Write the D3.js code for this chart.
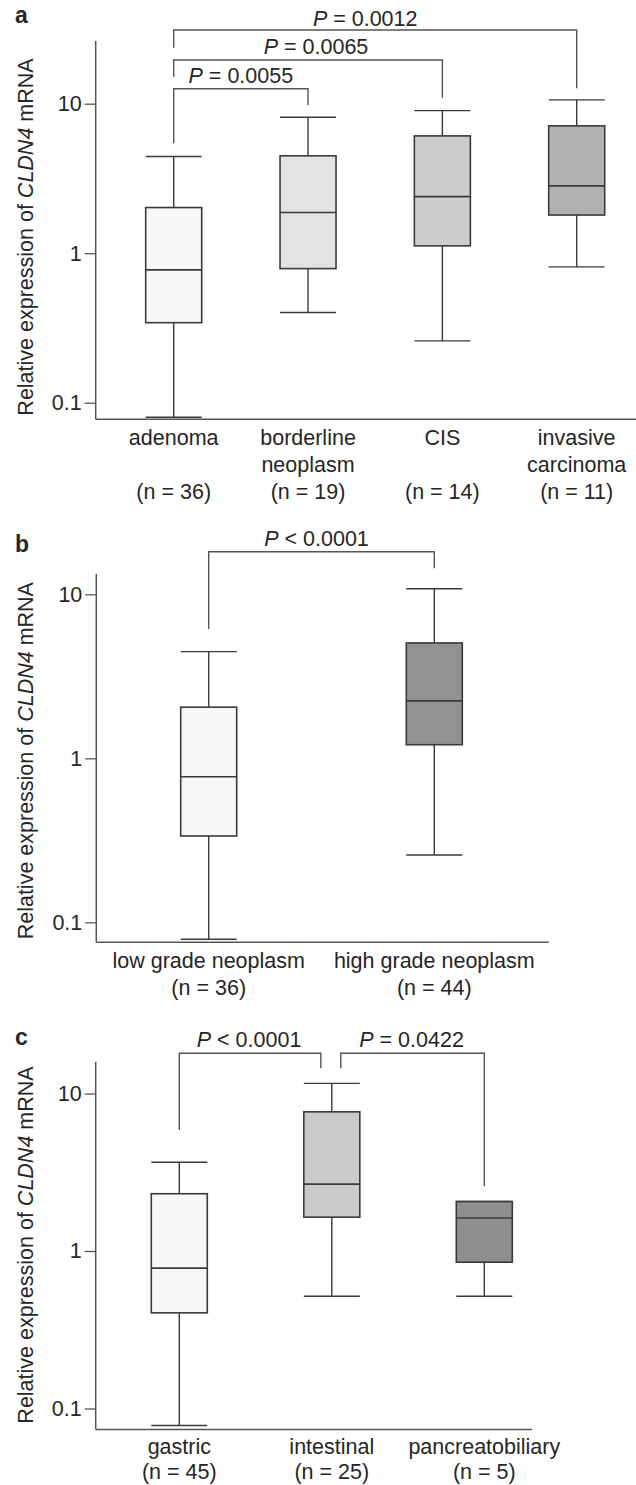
<!DOCTYPE html>
<html>
<head>
<meta charset="utf-8">
<script src="https://cdn.jsdelivr.net/npm/d3@7"></script>
<style>
  body { margin: 0; background: #fff; }
  svg { display: block; }
  text { font-family: "Liberation Sans", Arial, Helvetica, sans-serif; fill: #262626; }
</style>
</head>
<body>
<svg id="chart"></svg>
<script>
// tick labels (shared by the three panels)
var tickValues = [0.1, 1, 10];
var tickLabels = ["0.1", "1", "10"];

// panel a
var catsA = [["adenoma"], ["borderline", "neoplasm"], ["CIS"], ["invasive", "carcinoma"]];
var nA = [36, 19, 14, 11];
// [lower whisker, Q1, median, Q3, upper whisker]
var statsA = [
  [0.080, 0.343, 0.773, 2.02, 4.43],
  [0.401, 0.789, 1.87, 4.48, 8.12],
  [0.259, 1.12, 2.39, 6.09, 8.99],
  [0.81, 1.80, 2.82, 7.11, 10.6]
];
var compA = [[0, 1, "= 0.0055"], [0, 2, "= 0.0065"], [0, 3, "= 0.0012"]];

// panel b
var catsB = [["low grade neoplasm"], ["high grade neoplasm"]];
var nB = [36, 44];
var statsB = [
  [0.0788, 0.336, 0.772, 2.05, 4.47],
  [0.257, 1.21, 2.24, 5.05, 10.8]
];
var compB = [[0, 1, "< 0.0001"]];

// panel c
var catsC = [["gastric"], ["intestinal"], ["pancreatobiliary"]];
var nC = [45, 25, 5];
var statsC = [
  [0.078, 0.405, 0.778, 2.31, 3.66],
  [0.516, 1.64, 2.66, 7.65, 11.6],
  [0.516, 0.849, 1.62, 2.06, 2.06]
];
var compC = [[0, 1, "< 0.0001"], [1, 2, "= 0.0422"]];

var svgWidth = 636;
var svgHeight = 1485;
var fontSize = 21.5;
var boxWidth = 56;
var lineColor = "#3a3a3a";
var axisColor = "#555";

var svg = d3.select("#chart")
  .attr("width", svgWidth)
  .attr("height", svgHeight);

svg.append("rect").attr("width", svgWidth).attr("height", svgHeight).attr("fill", "#fff");

// layout of each panel (pixel positions only)
var panels = [
  { letter: "a", cats: catsA, n: nA, stats: statsA, comps: compA,
    fills: ["#f7f7f7", "#e3e3e3", "#cdcdcd", "#b1b1b1"],
    top: 41, y10: 103.7, y01: 402.7, axisY: 419.3, axisX: 95.7, xEnd: 636,
    x0: 173.7, x1: 576.7, letterY: 23.3, labelCY: 237, nLine: 2,
    lab0: 25.5, labStep: 27,
    brackets: [
      { y: 88.7, left: 143.3, right: 105, dx: 0, ty: 83.3 },
      { y: 60, left: 76.7, right: 97.7, dx: 8, ty: 54 },
      { y: 30, left: 47.7, right: 88.3, dx: -10, ty: 26 }
    ] },
  { letter: "b", cats: catsB, n: nB, stats: statsB, comps: compB,
    fills: ["#f7f7f7", "#929292"],
    top: 574, y10: 594.3, y01: 922.3, axisY: 942.3, axisX: 96.3, xEnd: 548.7,
    x0: 208.7, x1: 434.3, letterY: 551.7, labelCY: 760.7, nLine: 1,
    lab0: 25.5, labStep: 27,
    brackets: [
      { y: 551.7, left: 629, right: 568.3, dx: -5, ty: 546 }
    ] },
  { letter: "c", cats: catsC, n: nC, stats: statsC, comps: compC,
    fills: ["#f7f7f7", "#cacaca", "#8f8f8f"],
    top: 1061.7, y10: 1093.5, y01: 1408.5, axisY: 1429.5, axisX: 95.7, xEnd: 532,
    x0: 179.3, x1: 484.3, letterY: 1045, labelCY: 1245, nLine: 1,
    lab0: 24, labStep: 25,
    brackets: [
      { y: 1053.3, left: 1130, right: 1068.3, offR: -11, dx: -1, ty: 1046.7 },
      { y: 1053.3, left: 1068.3, right: 1186, offL: 9, dx: -1, ty: 1046.7 }
    ] }
];

panels.forEach(function(p) {
  var g = svg.append("g");

  var y = d3.scaleLog().domain([0.1, 10]).range([p.y01, p.y10]);
  var x = d3.scalePoint().domain(d3.range(p.cats.length)).range([p.x0, p.x1]);

  // panel letter
  g.append("text")
    .attr("x", 15).attr("y", p.letterY)
    .style("font-size", "23px").style("font-weight", "bold")
    .text(p.letter);

  // y axis
  var yAxis = d3.axisLeft(y)
    .tickValues(tickValues)
    .tickFormat(function(d, i) { return tickLabels[i]; })
    .tickSize(11)
    .tickPadding(3);
  var ga = g.append("g")
    .attr("transform", "translate(" + p.axisX + ",0)")
    .call(yAxis);
  ga.select(".domain").remove();
  ga.selectAll(".tick line").attr("stroke", axisColor).attr("stroke-width", 1.3);
  ga.selectAll(".tick text")
    .style("font-size", fontSize + "px")
    .style("font-family", "'Liberation Sans', Arial, sans-serif")
    .attr("fill", "#262626");

  g.append("line")
    .attr("x1", p.axisX).attr("x2", p.axisX)
    .attr("y1", p.top).attr("y2", p.axisY)
    .attr("stroke", axisColor).attr("stroke-width", 1.5);
  g.append("line")
    .attr("x1", p.axisX).attr("x2", p.xEnd)
    .attr("y1", p.axisY).attr("y2", p.axisY)
    .attr("stroke", axisColor).attr("stroke-width", 1.5);

  // y label
  var yl = g.append("text")
    .attr("transform", "translate(33," + p.labelCY + ") rotate(-90)")
    .attr("text-anchor", "middle")
    .style("font-size", fontSize + "px");
  yl.append("tspan").text("Relative expression of ");
  yl.append("tspan").style("font-style", "italic").text("CLDN4");
  yl.append("tspan").text(" mRNA");

  // category labels
  p.cats.forEach(function(lines, i) {
    var t = g.append("text")
      .attr("text-anchor", "middle")
      .style("font-size", fontSize + "px");
    lines.forEach(function(s, k) {
      t.append("tspan").attr("x", x(i)).attr("y", p.axisY + p.lab0 + k * p.labStep).text(s);
    });
    t.append("tspan").attr("x", x(i)).attr("y", p.axisY + p.lab0 + p.nLine * p.labStep)
      .text("(n = " + p.n[i] + ")");
  });

  // boxes
  var box = g.selectAll(".box")
    .data(p.stats)
    .enter()
    .append("g")
    .attr("class", "box")
    .attr("transform", function(d, i) { return "translate(" + x(i) + ",0)"; });

  box.append("line") // whisker line
    .attr("x1", 0).attr("x2", 0)
    .attr("y1", function(d) { return y(d[0]); })
    .attr("y2", function(d) { return y(d[4]); })
    .attr("stroke", lineColor).attr("stroke-width", 1.4);

  box.append("line") // lower cap
    .attr("x1", -boxWidth / 2).attr("x2", boxWidth / 2)
    .attr("y1", function(d) { return y(d[0]); })
    .attr("y2", function(d) { return y(d[0]); })
    .attr("stroke", lineColor).attr("stroke-width", 1.4);

  box.append("line") // upper cap
    .attr("x1", -boxWidth / 2).attr("x2", boxWidth / 2)
    .attr("y1", function(d) { return y(d[4]); })
    .attr("y2", function(d) { return y(d[4]); })
    .attr("stroke", lineColor).attr("stroke-width", 1.4);

  box.append("rect")
    .attr("x", -boxWidth / 2)
    .attr("width", boxWidth)
    .attr("y", function(d) { return y(d[3]); })
    .attr("height", function(d) { return y(d[1]) - y(d[3]); })
    .attr("fill", function(d, i) { return p.fills[i]; })
    .attr("stroke", lineColor).attr("stroke-width", 1.6);

  box.append("line") // median
    .attr("x1", -boxWidth / 2).attr("x2", boxWidth / 2)
    .attr("y1", function(d) { return y(d[2]); })
    .attr("y2", function(d) { return y(d[2]); })
    .attr("stroke", lineColor).attr("stroke-width", 1.6);

  // significance brackets
  p.comps.forEach(function(c, k) {
    var b = p.brackets[k];
    var xa = x(c[0]) + (b.offL || 0);
    var xb = x(c[1]) + (b.offR || 0);
    g.append("path")
      .attr("d", "M" + xa + "," + b.left + "V" + b.y + "H" + xb + "V" + b.right)
      .attr("fill", "none")
      .attr("stroke", axisColor).attr("stroke-width", 1.4);
    var t = g.append("text")
      .attr("x", (xa + xb) / 2 + b.dx)
      .attr("y", b.ty)
      .attr("text-anchor", "middle")
      .style("font-size", fontSize + "px");
    t.append("tspan").style("font-style", "italic").text("P");
    t.append("tspan").text(" " + c[2]);
  });
});
</script>
</body>
</html>
